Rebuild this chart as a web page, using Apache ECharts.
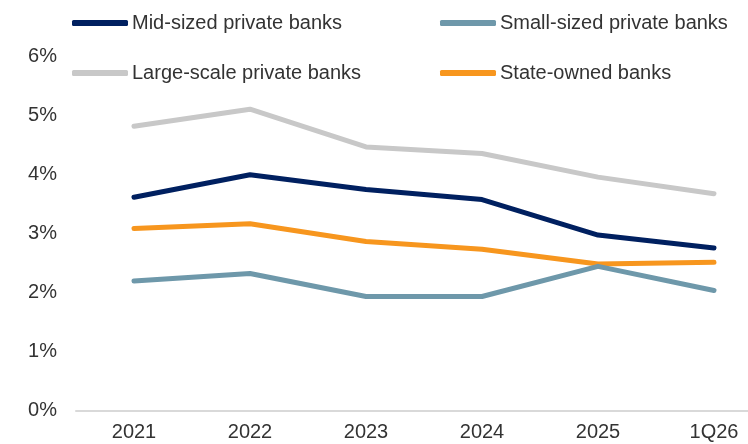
<!DOCTYPE html>
<html><head><meta charset="utf-8">
<script src="https://cdn.jsdelivr.net/npm/echarts@6/dist/echarts.min.js"></script>
<style>html,body{margin:0;padding:0;background:#fff}#c{width:748px;height:444px}</style>
</head><body><div id="c"></div>
<script>
var categories = ['2021','2022','2023','2024','2025','1Q26'];
var midSized = [3.61, 3.99, 3.74, 3.57, 2.97, 2.75];
var smallSized = [2.19, 2.32, 1.93, 1.93, 2.44, 2.03];
var largeScale = [4.81, 5.10, 4.46, 4.35, 3.95, 3.67];
var stateOwned = [3.08, 3.16, 2.86, 2.73, 2.48, 2.51];
var yTicks = [0, 1, 2, 3, 4, 5, 6];

var names = ['Mid-sized private banks','Small-sized private banks','Large-scale private banks','State-owned banks'];
var colors = ['#002060','#6E98AA','#C8C8C8','#F7961E'];
var font = 'Arial, "Liberation Sans", sans-serif';
function leg(name, left, top){
  return {data:[name], left:left, top:top, padding:0, itemWidth:56, itemHeight:6, itemGap:0,
    icon:'roundRect', selectedMode:false,
    textStyle:{fontSize:20, color:'#333', fontFamily:font, padding:[0,0,0,-1]}};
}
var chart = echarts.init(document.getElementById('c'));
function ser(i, data){
  return {name:names[i], type:'line', data:data, symbol:'none', smooth:false,
    xAxisIndex:0, yAxisIndex:0,
    lineStyle:{width:5, color:colors[i], cap:'round', join:'round'}, itemStyle:{color:colors[i]}, z:10-i};
}
chart.setOption({
  animation:false,
  legend:[leg(names[0],72,13), leg(names[1],440,13), leg(names[2],72,63), leg(names[3],440,63)],
  grid:[{left:134, right:34, top:56, bottom:33.5},
        {left:76, right:0, top:56, bottom:33.5}],
  xAxis:[{type:'category', data:categories, boundaryGap:false, gridIndex:0,
    axisLine:{show:false}, axisTick:{show:false}, splitLine:{show:false},
    axisLabel:{fontSize:20, color:'#333', fontFamily:font, margin:12}},
    {type:'category', data:categories, gridIndex:1,
    axisLine:{lineStyle:{color:'#D9D9D9', width:2}}, axisTick:{show:false},
    axisLabel:{show:false}, splitLine:{show:false}}],
  yAxis:[{type:'value', min:yTicks[0], max:yTicks[yTicks.length-1], interval:1, gridIndex:0,
    axisLine:{show:false}, axisTick:{show:false}, splitLine:{show:false},
    axisLabel:{fontSize:20, color:'#333', fontFamily:font, margin:77, formatter:'{value}%'}},
    {type:'value', min:yTicks[0], max:yTicks[yTicks.length-1], interval:1, gridIndex:1, show:false}],
  series:[ser(2, largeScale), ser(0, midSized), ser(3, stateOwned), ser(1, smallSized)]
});
</script></body></html>
